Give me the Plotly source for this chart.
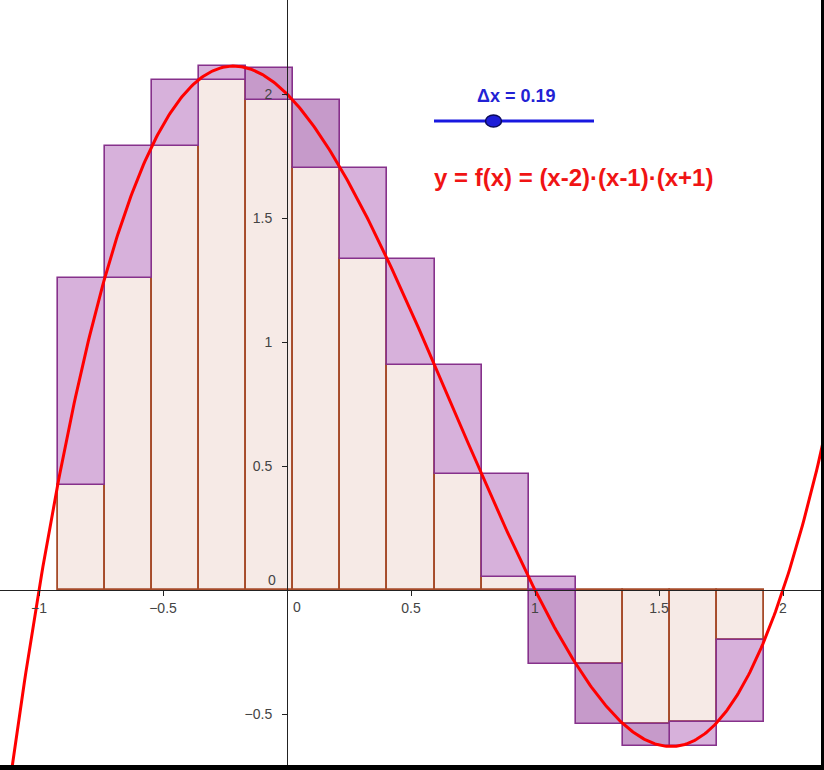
import numpy as np
import plotly.graph_objects as go

# ---- data ----
bar_left = [-0.925, -0.735, -0.545, -0.355, -0.165, 0.025, 0.215, 0.405,
            0.595, 0.785, 0.975, 1.165, 1.355, 1.545, 1.735]
dx = 0.19
upper_sum = [1.258, 1.789, 2.058, 2.113, 2.106, 1.974, 1.703, 1.333,
             0.908, 0.466, 0.051, -0.298, -0.539, -0.533, -0.203]
lower_sum = [0.422, 1.258, 1.789, 2.058, 1.974, 1.703, 1.333, 0.908,
             0.466, 0.051, -0.298, -0.539, -0.631, -0.631, -0.533]
dark_bars = [5, 6, 11, 12, 13]   # 1-based bars whose difference strip is darker
x_ticks = [-1, -0.5, 0.5, 1, 1.5, 2]
y_ticks = [-0.5, 0.5, 1, 1.5, 2]
slider_label = "Δx = 0.19"
func_label = "y = f(x) = (x-2)·(x-1)·(x+1)"


def f(x):
    return (x - 2) * (x - 1) * (x + 1)


# ---- styles ----
W, H = 824, 770
X0PX, Y0PX, UNIT = 287, 590, 248.0
xmin, xmax = -X0PX / UNIT, (W - X0PX) / UNIT
ymin, ymax = -(H - Y0PX) / UNIT, Y0PX / UNIT

PINK = "#F6EAE6"
BROWN = "#A64B2A"
LPURP = "#D7B1DB"
DPURP = "#C69ACA"
PURP_LINE = "#86318B"

centers = [l + dx / 2 for l in bar_left]

pink_x, pink_base, pink_y = [], [], []
lp_x, lp_base, lp_y = [], [], []
dp_x, dp_base, dp_y = [], [], []
for i, (c, up, lo) in enumerate(zip(centers, upper_sum, lower_sum)):
    idx = i + 1
    dark = idx in dark_bars
    if lo >= 0:
        pink_x.append(c); pink_base.append(0); pink_y.append(lo)
        (dp_x if dark else lp_x).append(c)
        (dp_base if dark else lp_base).append(lo)
        (dp_y if dark else lp_y).append(up - lo)
    elif up <= 0:
        pink_x.append(c); pink_base.append(0); pink_y.append(up)
        (dp_x if dark else lp_x).append(c)
        (dp_base if dark else lp_base).append(lo)
        (dp_y if dark else lp_y).append(up - lo)
    else:
        lp_x.append(c); lp_base.append(0); lp_y.append(up)
        dp_x.append(c); dp_base.append(lo); dp_y.append(-lo)

fig = go.Figure()
fig.add_trace(go.Bar(x=pink_x, y=pink_y, base=pink_base, width=dx,
                     marker=dict(color=PINK, line=dict(color=BROWN, width=1.8)),
                     hoverinfo="skip", showlegend=False))
fig.add_trace(go.Bar(x=lp_x, y=lp_y, base=lp_base, width=dx,
                     marker=dict(color=LPURP, line=dict(color=PURP_LINE, width=1.6)),
                     hoverinfo="skip", showlegend=False))
fig.add_trace(go.Bar(x=dp_x, y=dp_y, base=dp_base, width=dx,
                     marker=dict(color=DPURP, line=dict(color=PURP_LINE, width=1.6)),
                     hoverinfo="skip", showlegend=False))

xs = np.linspace(xmin - 0.05, xmax + 0.05, 600)
fig.add_trace(go.Scatter(x=xs, y=f(xs), mode="lines",
                         line=dict(color="#FF0000", width=3),
                         hoverinfo="skip", showlegend=False))

tickfont = dict(family="Liberation Sans, Arial, sans-serif", size=14, color="#444444")
fig.update_layout(
    width=W, height=H, autosize=False,
    margin=dict(l=0, r=0, t=0, b=0),
    paper_bgcolor="white", plot_bgcolor="white",
    barmode="overlay", bargap=0,
    xaxis=dict(range=[xmin, xmax], showgrid=False, zeroline=False,
               showline=True, linecolor="#222222", linewidth=1,
               ticks="outside", ticklen=5, tickcolor="#222222",
               tickvals=x_ticks, tickfont=tickfont,
               anchor="free", position=(0 - ymin) / (ymax - ymin),
               fixedrange=True),
    yaxis=dict(range=[ymin, ymax], showgrid=False, zeroline=False,
               showline=True, linecolor="#222222", linewidth=1,
               ticks="outside", ticklen=5, tickcolor="#222222",
               tickvals=y_ticks, tickfont=tickfont, ticklabelstandoff=7,
               anchor="free", position=(0 - xmin) / (xmax - xmin),
               fixedrange=True),
)

# origin labels
fig.add_annotation(x=0.04, y=-0.069, xref="x", yref="y", text="0", showarrow=False,
                   font=tickfont, xanchor="center", yanchor="middle")
fig.add_annotation(x=-0.06, y=0.04, xref="x", yref="y", text="0", showarrow=False,
                   font=tickfont, xanchor="center", yanchor="middle")

# slider
fig.add_shape(type="line", xref="paper", yref="paper",
              x0=434 / W, x1=594 / W, y0=1 - 121 / H, y1=1 - 121 / H,
              line=dict(color="#1818E0", width=3))
fig.add_shape(type="circle", xref="paper", yref="paper",
              x0=485.5 / W, x1=501.5 / W, y0=1 - 127 / H, y1=1 - 115 / H,
              fillcolor="#1E1ED8", line=dict(color="#0A0A5A", width=1.5))
fig.add_annotation(x=516 / W, y=1 - 96 / H, xref="paper", yref="paper",
                   text=slider_label, showarrow=False, xanchor="center", yanchor="middle",
                   font=dict(family="Liberation Sans, Arial, sans-serif", size=18,
                             color="#2222D4", weight="bold"))
fig.add_annotation(x=432 / W, y=1 - 177 / H, xref="paper", yref="paper",
                   text=func_label, showarrow=False, xanchor="left", yanchor="middle",
                   font=dict(family="Liberation Sans, Arial, sans-serif", size=24,
                             color="#F01414", weight="bold"))

# black frame on right and bottom
fig.add_shape(type="rect", xref="paper", yref="paper", x0=821 / W, x1=1, y0=0, y1=1,
              fillcolor="black", line=dict(width=0), layer="above")
fig.add_shape(type="rect", xref="paper", yref="paper", x0=0, x1=1, y0=0, y1=5 / H,
              fillcolor="black", line=dict(width=0), layer="above")

fig.write_html("out.html", config={"displayModeBar": False},
               post_script="document.body.style.margin='0';document.body.style.padding='0';"
                           "document.body.style.overflow='hidden';")
